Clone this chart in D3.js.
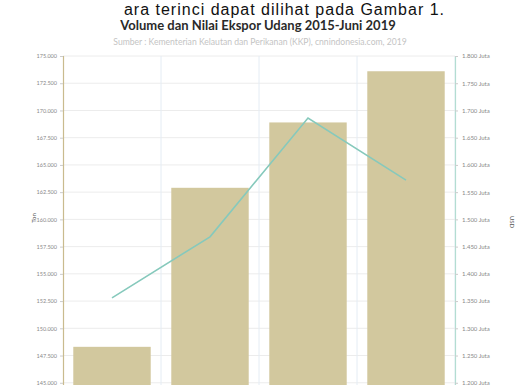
<!DOCTYPE html>
<html><head><meta charset="utf-8">
<script src="https://cdn.jsdelivr.net/npm/d3@7"></script>
<style>html,body{margin:0;padding:0;background:#fff;overflow:hidden}</style>
</head><body>
<script>
const categories = ["2015", "2016", "2017", "2018"];
const volumeTon = [148300, 162900, 168900, 173600];
const valueJuta = [1356, 1468, 1686, 1572];
const leftTicks = [145000,147500,150000,152500,155000,157500,160000,162500,165000,167500,170000,172500,175000];
const rightTicks = [1200,1250,1300,1350,1400,1450,1500,1550,1600,1650,1700,1750,1800];
const titleText = "Volume dan Nilai Ekspor Udang 2015-Juni 2019";
const subtitleText = "Sumber : Kementerian Kelautan dan Perikanan (KKP), cnnindonesia.com, 2019";
const topText = "ara terinci dapat dilihat pada Gambar 1.";

const W = 517, H = 385;
const svg = d3.select("body").append("svg").attr("width", W).attr("height", H);

svg.append("text").attr("x", 445).attr("y", 14.6).attr("text-anchor", "end")
  .attr("font-family", "Liberation Sans, Arial, sans-serif").attr("font-size", 16)
  .attr("letter-spacing", 1)
  .attr("fill", "#111").text(topText);

svg.append("text").attr("x", 258).attr("y", 30).attr("text-anchor", "middle")
  .attr("font-family", "Lato, sans-serif").attr("font-weight", "bold").attr("font-size", 13)
  .attr("fill", "#2a2a2a").text(titleText);
svg.append("text").attr("x", 260).attr("y", 45).attr("text-anchor", "middle")
  .attr("font-family", "Lato, sans-serif").attr("font-size", 8.6)
  .attr("fill", "#c4c4c4").text(subtitleText);

const x0 = 63, x1 = 455;
const x = d3.scaleBand().domain(categories).range([x0, x1]).paddingInner(0.21).paddingOuter(0.105);
const yL = d3.scaleLinear().domain([142500, 175000]).range([410, 56]);
const yR = d3.scaleLinear().domain([1150, 1800]).range([410, 56]);

// gridlines
svg.append("g").selectAll("line").data(leftTicks).join("line")
  .attr("x1", x0).attr("x2", x1).attr("y1", d => yL(d)).attr("y2", d => yL(d))
  .attr("stroke", "#ececec").attr("stroke-width", 1);
svg.append("g").selectAll("line").data(categories).join("line")
  .attr("x1", (d,i) => x0 + (i+1)*(x1-x0)/categories.length)
  .attr("x2", (d,i) => x0 + (i+1)*(x1-x0)/categories.length)
  .attr("y1", 56).attr("y2", H)
  .attr("stroke", "#e4ecf4").attr("stroke-width", 1);

// bars
svg.append("g").selectAll("rect").data(categories).join("rect")
  .attr("x", d => x(d)).attr("width", x.bandwidth())
  .attr("y", (d,i) => yL(volumeTon[i])).attr("height", (d,i) => 410 - yL(volumeTon[i]))
  .attr("fill", "#d2c89e");

// line
const line = d3.line().x((d,i) => x(categories[i]) + x.bandwidth()/2).y(d => yR(d));
svg.append("path").datum(valueJuta).attr("d", line)
  .attr("fill", "none").attr("stroke", "#86c9bc").attr("stroke-width", 1.6);

// axes
const fmtL = d => d3.format(",")(d).replace(/,/g, ".");
const axL = svg.append("g").attr("transform", `translate(${x0},0)`)
  .call(d3.axisLeft(yL).tickValues(leftTicks).tickFormat(fmtL).tickSize(3).tickPadding(3));
axL.select(".domain").attr("stroke", "#c9bb8e").attr("stroke-width", 1.2);
axL.selectAll(".tick line").attr("stroke", "#ccc");
axL.selectAll("text").attr("fill", "#888").attr("font-size", 5.5).attr("font-family", "Lato, sans-serif");

const fmtR = d => d3.format(",")(d).replace(/,/g, ".") + " Juta";
const axR = svg.append("g").attr("transform", `translate(${x1},0)`)
  .call(d3.axisRight(yR).tickValues(rightTicks).tickFormat(fmtR).tickSize(3).tickPadding(4));
axR.select(".domain").attr("stroke", "#b3ddd2").attr("stroke-width", 1.2);
axR.selectAll(".tick line").attr("stroke", "#ccc");
axR.selectAll("text").attr("fill", "#888").attr("font-size", 6).attr("font-family", "Lato, sans-serif");

svg.append("text").attr("transform", "translate(36,218) rotate(-90)").attr("text-anchor", "middle")
  .attr("font-family", "Lato, sans-serif").attr("font-size", 6).attr("fill", "#555").text("Ton");
svg.append("text").attr("transform", "translate(510,222) rotate(90)").attr("text-anchor", "middle")
  .attr("font-family", "Lato, sans-serif").attr("font-size", 6).attr("fill", "#555").text("USD");
</script>
</body></html>
